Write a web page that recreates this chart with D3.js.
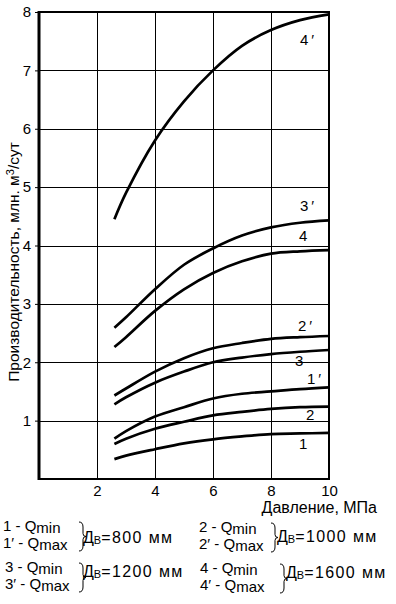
<!DOCTYPE html>
<html>
<head>
<meta charset="utf-8">
<script src="https://cdn.jsdelivr.net/npm/d3@7"></script>
<style>
  html, body { margin: 0; padding: 0; background: #fff; }
  svg { display: block; font-family: "Liberation Sans", Arial, sans-serif; }
  .grid line { stroke: #000; stroke-width: 1; shape-rendering: crispEdges; }
  .tick-lbl { font-size: 15px; fill: #000; }
  .curve { fill: none; stroke: #000; stroke-width: 2.7; stroke-linecap: butt; }
  .lbl { font-size: 15px; fill: #000; }
  .leg { font-size: 15px; fill: #000; }
  .dia { font-size: 16px; fill: #000; }
</style>
</head>
<body>
<svg id="chart" width="396" height="604"></svg>
<script>
// ─── Data ───────────────────────────────────────────────────────────────
const pressure = [2.6, 3, 4, 5, 6, 7, 8, 9, 10];   // МПа
const q1  = [0.34, 0.40, 0.51, 0.61, 0.68, 0.73, 0.77, 0.78, 0.79];
const q1p = [0.69, 0.82, 1.07, 1.23, 1.38, 1.46, 1.50, 1.54, 1.57];
const q2  = [0.60, 0.69, 0.86, 0.98, 1.09, 1.15, 1.20, 1.23, 1.24];
const q2p = [1.43, 1.55, 1.84, 2.07, 2.24, 2.33, 2.40, 2.43, 2.45];
const q3  = [1.28, 1.40, 1.65, 1.84, 2.00, 2.08, 2.14, 2.18, 2.21];
const q3p = [2.59, 2.77, 3.25, 3.67, 3.95, 4.17, 4.31, 4.39, 4.43];
const q4  = [2.26, 2.43, 2.88, 3.25, 3.53, 3.73, 3.86, 3.90, 3.92];
const q4p = [4.45, 4.90, 5.80, 6.47, 7.00, 7.42, 7.69, 7.86, 7.96];
const xTicks = [2, 4, 6, 8, 10];
const yTicks = [1, 2, 3, 4, 5, 6, 7, 8];
const curveNames = ['1', '1′', '2', '2′', '3', '3′', '4', '4′'];
const diameters = ['800', '1000', '1200', '1600'];

const seriesList = [q1, q1p, q2, q2p, q3, q3p, q4, q4p];

const svg = d3.select('#chart');
const x = d3.scaleLinear().domain([0, 10]).range([39, 329]);
const y = d3.scaleLinear().domain([0, 8]).range([479, 12]);

// Grid
const grid = svg.append('g').attr('class', 'grid');
grid.selectAll('line.v').data([2, 4, 6, 8]).join('line')
  .attr('x1', d => Math.round(x(d)) + 0.5).attr('x2', d => Math.round(x(d)) + 0.5)
  .attr('y1', y(8)).attr('y2', y(0));
grid.selectAll('line.h').data([1, 2, 3, 4, 5, 6, 7]).join('line')
  .attr('x1', x(0)).attr('x2', x(10))
  .attr('y1', d => Math.round(y(d)) + 0.5).attr('y2', d => Math.round(y(d)) + 0.5);

// Frame
svg.append('rect')
  .attr('x', x(0)).attr('y', y(8))
  .attr('width', x(10) - x(0)).attr('height', y(0) - y(8))
  .attr('fill', 'none').attr('stroke', '#000').attr('stroke-width', 2);
svg.append('line')
  .attr('x1', x(0)).attr('x2', x(0)).attr('y1', y(8) - 1).attr('y2', y(0) + 1)
  .attr('stroke', '#000').attr('stroke-width', 3);

// Axes (labels + short outer ticks)
const yAxis = svg.append('g')
  .attr('transform', `translate(${x(0) - 1},0)`)
  .call(d3.axisLeft(y).tickValues(yTicks).tickSize(3).tickPadding(4));
yAxis.select('.domain').remove();
yAxis.selectAll('text').attr('class', 'tick-lbl').attr('font-family', null).attr('font-size', null);
yAxis.selectAll('line').attr('stroke', '#000');

const xAxis = svg.append('g')
  .attr('transform', `translate(0,${y(0)})`)
  .call(d3.axisBottom(x).tickValues(xTicks).tickSize(0).tickPadding(6));
xAxis.select('.domain').remove();
xAxis.selectAll('text').attr('class', 'tick-lbl').attr('font-family', null).attr('font-size', null);

// Curves
const line = d3.line()
  .x((d, i) => x(pressure[i]))
  .y(d => y(d))
  .curve(d3.curveCatmullRom.alpha(0.5));
svg.selectAll('path.curve').data(seriesList).join('path')
  .attr('class', 'curve')
  .attr('d', line);

// Curve labels
const labelPos = [[299, 449], [307, 384], [306, 420], [298, 331], [295, 366], [300, 211], [299, 241], [300, 45]];
curveNames.forEach((name, i) => {
  const t = svg.append('text').attr('class', 'lbl')
    .attr('x', labelPos[i][0]).attr('y', labelPos[i][1]);
  t.append('tspan').text(name[0]);
  if (name.length > 1) t.append('tspan').attr('dx', 3).text(name[1]);
});

// Axis titles
svg.append('text').attr('class', 'lbl')
  .attr('transform', 'translate(19,262) rotate(-90)')
  .attr('text-anchor', 'middle')
  .style('font-size', '15.5px')
  .call(t => {
    t.append('tspan').text('Производительность, млн. м');
    t.append('tspan').attr('font-size', 11).attr('dy', -5).text('3');
    t.append('tspan').attr('dy', 5).text('/сут');
  });
svg.append('text').attr('class', 'dia')
  .attr('x', 377).attr('y', 513).attr('text-anchor', 'end')
  .text('Давление, МПа');

// Legend
const legendBlocks = [
  { n: 0, x: 3,   y: 531, bx: 79,  dx: 83,  dy: 543 },
  { n: 1, x: 199, y: 532, bx: 271, dx: 277, dy: 542 },
  { n: 2, x: 5,   y: 572, bx: 79,  dx: 83,  dy: 577 },
  { n: 3, x: 200, y: 573, bx: 280, dx: 286, dy: 578 }
];
legendBlocks.forEach(b => {
  const k = b.n + 1;
  const rows = [[`${k} - Q`, 'min', 0], [`${k}′ - Q`, 'max', 17]];
  rows.forEach(r => {
    const t = svg.append('text').attr('class', 'leg').attr('x', b.x).attr('y', b.y + r[2]);
    t.append('tspan').text(r[0]);
    t.append('tspan').attr('dy', 1.5).text(r[1]);
  });
  // brace
  const y0 = b.y - 9, y1 = b.y + 20, ym = (y0 + y1) / 2, bx = b.bx;
  const p = d3.path();
  p.moveTo(bx, y0);
  p.quadraticCurveTo(bx + 4, y0, bx + 4, y0 + 5);
  p.lineTo(bx + 4, ym - 3);
  p.quadraticCurveTo(bx + 4, ym, bx + 7, ym);
  p.quadraticCurveTo(bx + 4, ym, bx + 4, ym + 3);
  p.lineTo(bx + 4, y1 - 5);
  p.quadraticCurveTo(bx + 4, y1, bx, y1);
  svg.append('path').attr('d', p.toString())
    .attr('fill', 'none').attr('stroke', '#000').attr('stroke-width', 1);
  const t = svg.append('text').attr('class', 'dia').attr('x', b.dx).attr('y', b.dy);
  t.append('tspan').text('Д');
  t.append('tspan').attr('font-size', 11).attr('dy', 1).text('В');
  t.append('tspan').attr('dy', -1).attr('letter-spacing', 1.4).text(`=${diameters[b.n]} мм`);
});
</script>
</body>
</html>
